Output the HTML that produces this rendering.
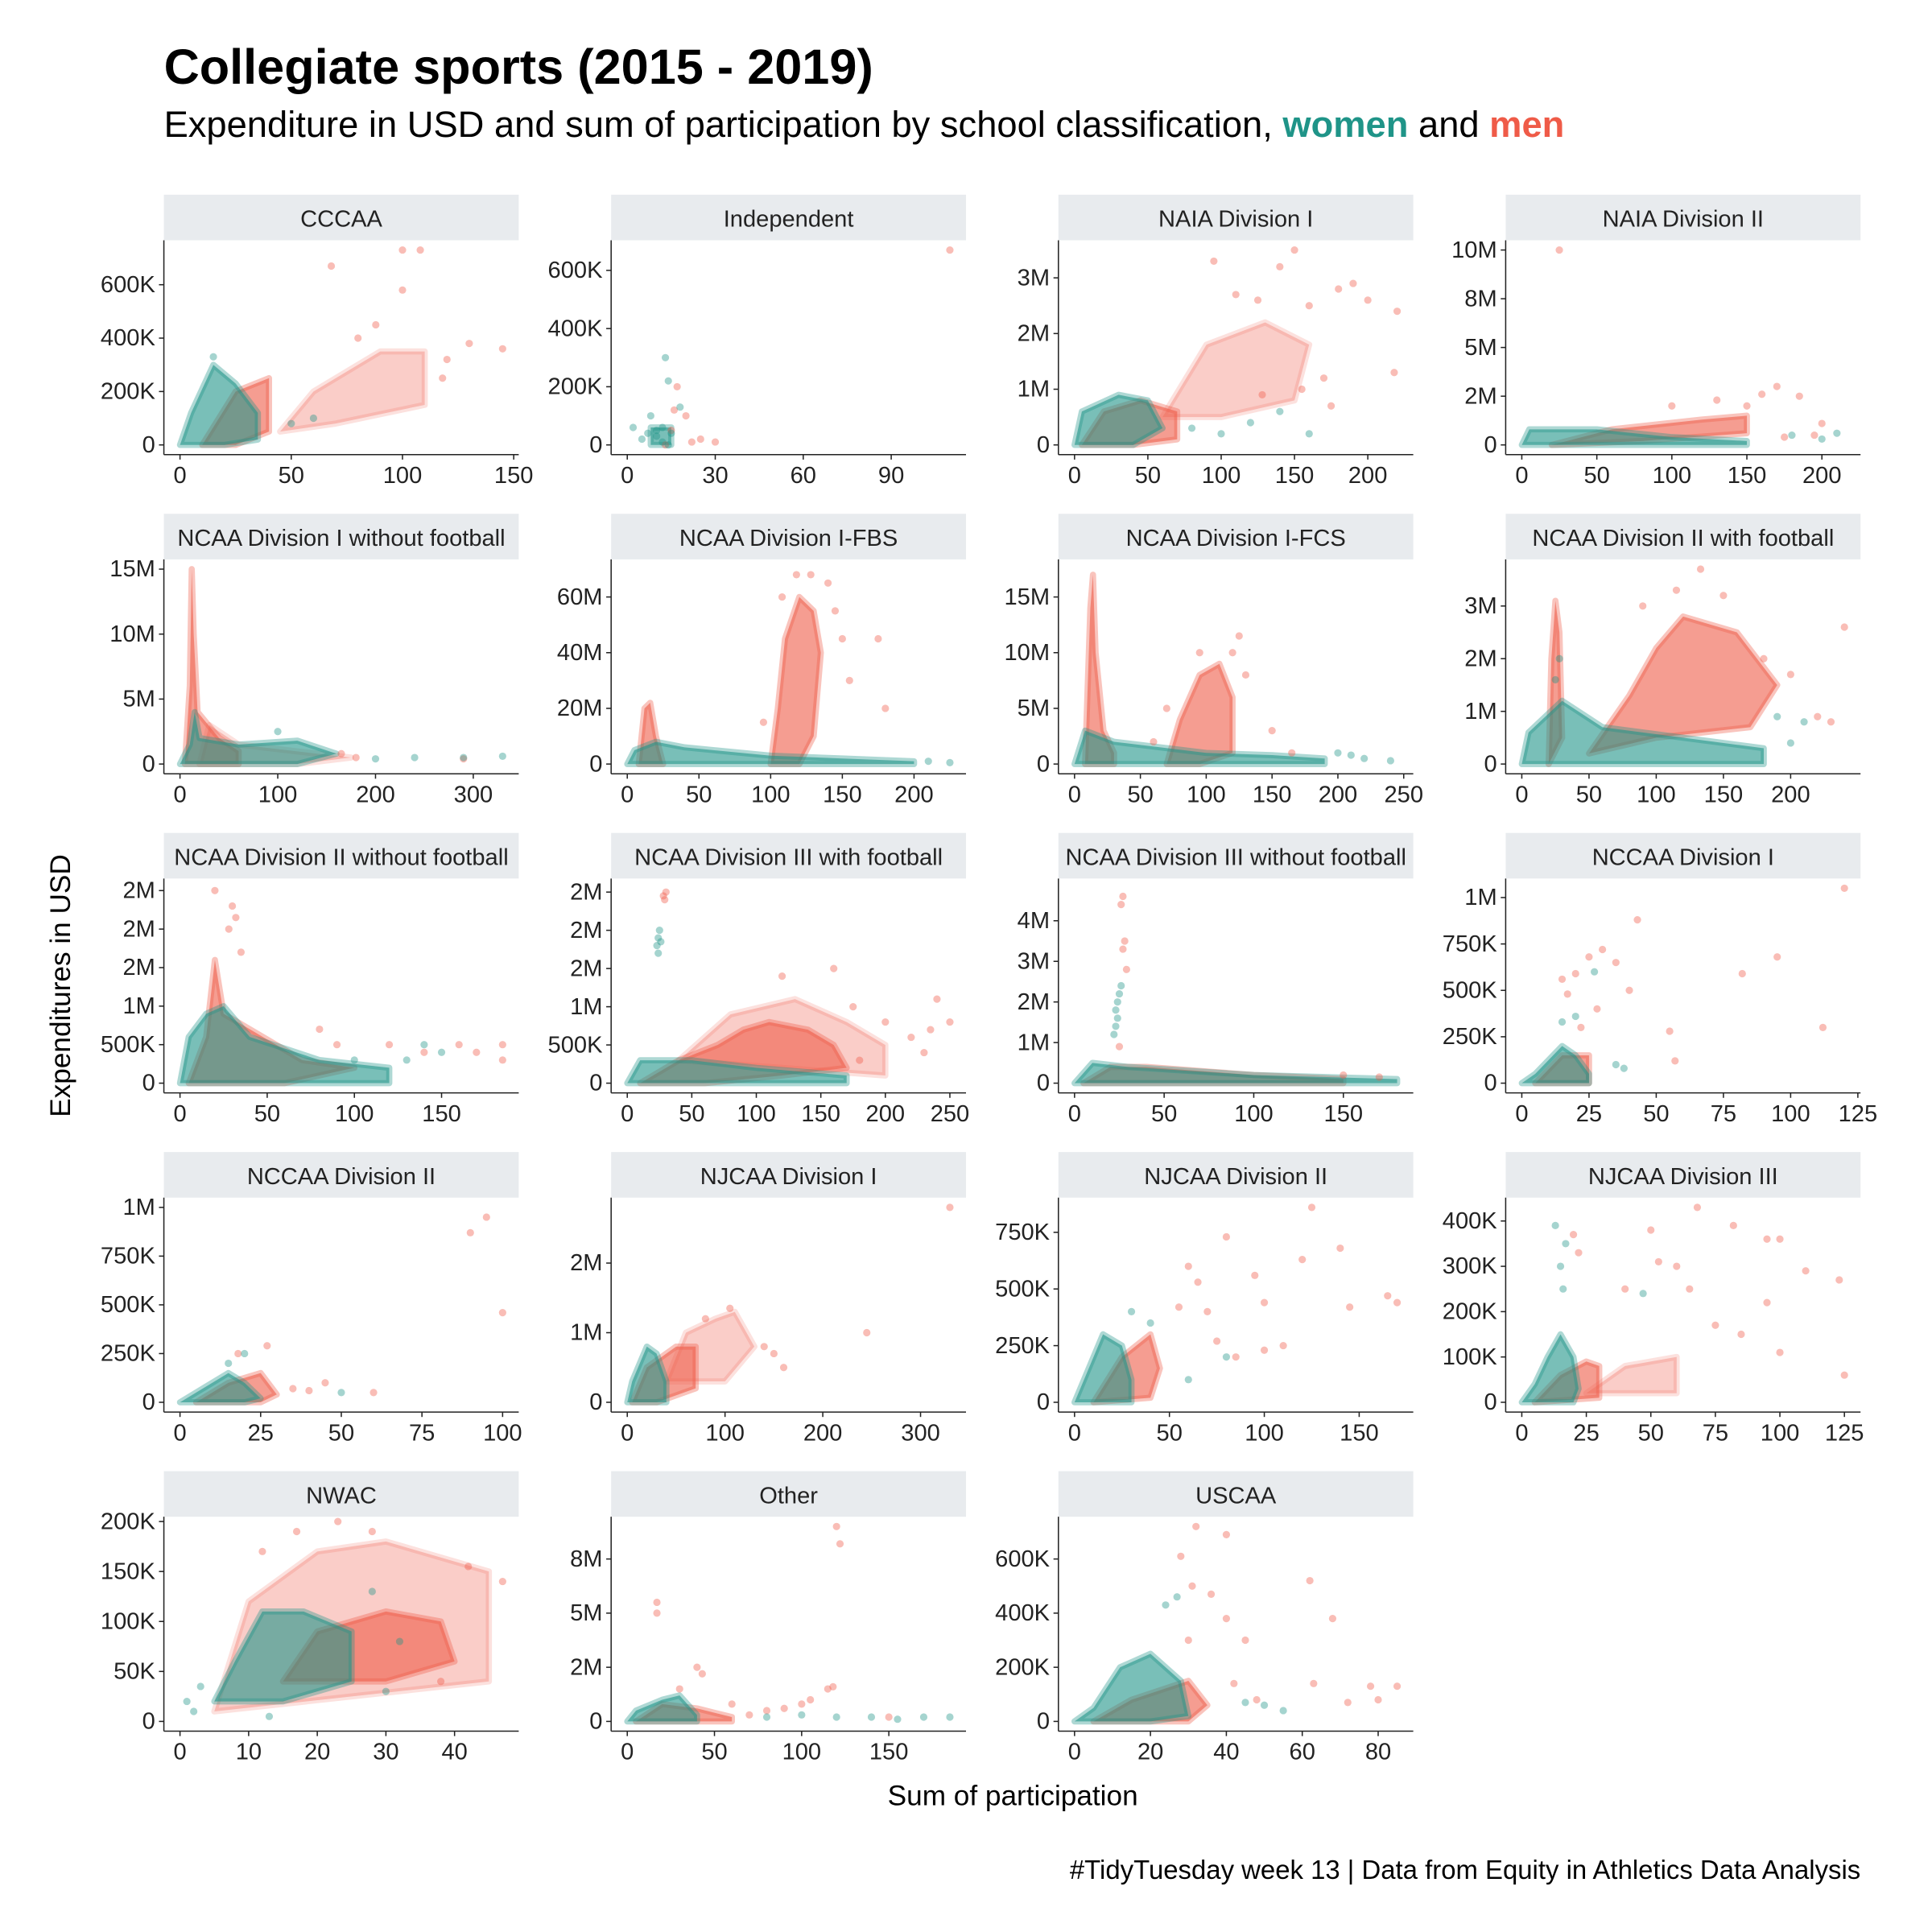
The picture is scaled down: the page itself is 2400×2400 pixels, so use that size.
<!DOCTYPE html>
<html><head><meta charset="utf-8"><style>
html,body{margin:0;padding:0;background:#fff}
svg{display:block}
text{font-family:"Liberation Sans Narrow","Liberation Sans",sans-serif}
</style></head><body>
<svg id="chart" xmlns="http://www.w3.org/2000/svg" width="2400" height="2400" viewBox="0 0 1568 1568">
<rect width="1600" height="1600" fill="#fff"/>
<text x="133" y="68" font-size="40" font-weight="bold" style="font-family:'Liberation Sans',sans-serif">Collegiate sports (2015 - 2019)</text>
<text x="133" y="111" font-size="29.6" style="font-family:'Liberation Sans',sans-serif">Expenditure in USD and sum of participation by school classification, <tspan fill="#1f9488" font-weight="bold">women</tspan> and <tspan fill="#ef5b48" font-weight="bold">men</tspan></text>
<text x="822" y="1465" font-size="23" text-anchor="middle">Sum of participation</text>
<text transform="translate(57,800) rotate(-90)" font-size="23" text-anchor="middle">Expenditures in USD</text>
<text x="1510" y="1525" font-size="21.5" text-anchor="end" style="font-family:'Liberation Sans',sans-serif">#TidyTuesday week 13 | Data from Equity in Athletics Data Analysis</text>
<g id="panels"></g>
</svg>
<script>
const panelNames=["CCCAA","Independent","NAIA Division I","NAIA Division II","NCAA Division I without football","NCAA Division I-FBS","NCAA Division I-FCS","NCAA Division II with football","NCAA Division II without football","NCAA Division III with football","NCAA Division III without football","NCCAA Division I","NCCAA Division II","NJCAA Division I","NJCAA Division II","NJCAA Division III","NWAC","Other","USCAA"];
const xMaxes=[145,110,220,215,330,225,245,240,185,250,180,120,100,330,170,125,47,185,85];
const yMaxes=[730,670,3.5,10,15,70,17.5,3.7,2.53,2.55,4.8,1050,1000,2.8,860,430,195,9,720];
const xTicks=[[0,50,100,150],[0,30,60,90],[0,50,100,150,200],[0,50,100,150,200],[0,100,200,300],[0,50,100,150,200],[0,50,100,150,200,250],[0,50,100,150,200],[0,50,100,150],[0,50,100,150,200,250],[0,50,100,150],[0,25,50,75,100,125],[0,25,50,75,100],[0,100,200,300],[0,50,100,150],[0,25,50,75,100,125],[0,10,20,30,40],[0,50,100,150],[0,20,40,60,80]];
const yTicks=[[0,200,400,600],[0,200,400,600],[0,1,2,3],[0,2.5,5,7.5,10],[0,5,10,15],[0,20,40,60],[0,5,10,15],[0,1,2,3],[0,0.5,1,1.5,2,2.5],[0,0.5,1,1.5,2,2.5],[0,1,2,3,4],[0,250,500,750,1000],[0,250,500,750,1000],[0,1,2],[0,250,500,750],[0,100,200,300,400],[0,50,100,150,200],[0,2.5,5,7.5],[0,200,400,600]];
const yTickLabels=[["0","200K","400K","600K"],["0","200K","400K","600K"],["0","1M","2M","3M"],["0","2M","5M","8M","10M"],["0","5M","10M","15M"],["0","20M","40M","60M"],["0","5M","10M","15M"],["0","1M","2M","3M"],["0","500K","1M","2M","2M","2M"],["0","500K","1M","2M","2M","2M"],["0","1M","2M","3M","4M"],["0","250K","500K","750K","1M"],["0","250K","500K","750K","1M"],["0","1M","2M"],["0","250K","500K","750K"],["0","100K","200K","300K","400K"],["0","50K","100K","150K","200K"],["0","2M","5M","8M"],["0","200K","400K","600K"]];
const womenDense=[
[[[0,0],[5,120],[15,300],[25,230],[35,120],[35,20],[20,0]]],
[[[8,0],[8,60],[15,60],[15,0]]],
[[[0,0],[5,0.6],[30,0.9],[50,0.8],[60,0.3],[40,0]]],
[[[0,0],[5,0.8],[50,0.8],[100,0.4],[150,0.2],[150,0]]],
[[[0,0],[10,1.5],[15,4],[20,2],[60,1.5],[120,1.8],[160,0.8],[120,0]]],
[[[0,0],[5,5],[20,8],[40,6],[100,3],[150,2],[200,1],[200,0]]],
[[[0,0],[8,3],[30,2],[100,1],[150,0.8],[190,0.5],[190,0]]],
[[[0,0],[5,0.6],[30,1.2],[60,0.7],[120,0.5],[180,0.3],[180,0]]],
[[[0,0],[5,0.6],[15,0.9],[25,1.0],[40,0.6],[80,0.3],[120,0.2],[120,0]]],
[[[0,0],[10,0.3],[50,0.3],[100,0.2],[170,0.1],[170,0]]],
[[[0,0],[10,0.5],[30,0.4],[100,0.2],[180,0.1],[180,0]]],
[[[0,0],[5,50],[15,200],[20,150],[25,50],[25,0]]],
[[[0,0],[5,50],[15,150],[20,100],[25,20],[20,0]]],
[[[0,0],[5,0.3],[20,0.8],[30,0.7],[40,0.3],[40,0]]],
[[[0,0],[5,100],[15,300],[25,250],[30,100],[30,0]]],
[[[0,0],[5,40],[10,100],[15,150],[20,100],[22,30],[20,0]]],
[[[5,20],[8,60],[12,110],[18,110],[25,90],[25,40],[15,20]]],
[[[0,0],[5,0.5],[20,1.0],[30,1.2],[40,0.3],[40,0]]],
[[[0,0],[5,50],[12,200],[20,250],[28,150],[30,20],[20,0]]]];
const menDense=[
[[[10,0],[25,200],[40,250],[40,50],[25,0]]],
[],
[[[5,0],[20,0.6],[45,0.8],[70,0.6],[70,0.1],[40,0]]],
[[[20,0],[60,0.8],[120,1.3],[150,1.5],[150,0.6],[80,0.2]]],
[[[5,0],[10,6],[12,15],[14,10],[18,4],[40,2],[60,1],[60,0]]],
[[[8,0],[12,20],[16,22],[20,10],[25,0]],[[100,0],[105,20],[110,45],[120,60],[130,55],[135,40],[130,10],[120,0]]],
[[[8,0],[12,14],[14,17],[16,10],[22,3],[30,1],[30,0]],[[70,0],[80,4],[95,8],[110,9],[120,6],[120,1],[95,0]]],
[[[20,0],[22,2],[25,3.1],[28,2.5],[30,0.5]],[[50,0.2],[80,1.3],[100,2.2],[120,2.8],[160,2.5],[190,1.5],[170,0.7],[100,0.5]]],
[[[5,0],[15,0.6],[20,1.6],[25,0.9],[40,0.7],[70,0.3],[100,0.2],[60,0]]],
[[[10,0],[40,0.3],[70,0.5],[90,0.7],[110,0.8],[140,0.7],[160,0.5],[170,0.2],[120,0.1],[60,0]]],
[[[5,0],[20,0.4],[40,0.4],[100,0.2],[150,0.1],[150,0]]],
[[[5,0],[15,150],[25,150],[25,0]]],
[[[5,0],[15,100],[25,150],[30,40],[25,0]]],
[[[5,0],[20,0.5],[50,0.8],[70,0.8],[70,0.2],[30,0]]],
[[[10,0],[25,200],[40,300],[45,150],[40,20]]],
[[[5,0],[15,60],[25,90],[30,80],[30,10]]],
[[[15,40],[20,90],[30,110],[38,100],[40,60],[30,40]]],
[[[5,0],[20,0.8],[40,0.6],[60,0.2],[60,0]]],
[[[5,0],[15,80],[30,150],[35,60],[30,0]]]];
const menSparse=[
[[[45,50],[60,200],[90,350],[110,350],[110,150],[70,80]]],
[],
[[[60,0.5],[90,1.8],[130,2.2],[160,1.8],[150,0.8],[100,0.5]]],
[],
[[[20,0],[30,3],[60,1.5],[140,0.8],[175,0.5],[120,0]]],
[],[],[],[],
[[[40,0.3],[80,0.9],[130,1.1],[170,0.8],[200,0.5],[200,0.1]]],
[],[],[],
[[[40,0.3],[60,1.0],[90,1.2],[110,1.3],[130,0.8],[100,0.3]]],
[],
[[[25,20],[40,80],[60,100],[60,20]]],
[[[5,10],[10,120],[20,170],[30,180],[45,150],[45,40]]],
[],[]];
const womenPoints=[
[[15,330],[60,100],[50,80]],
[[10,30],[12,60],[13,300],[14,220],[8,100],[5,20],[15,40],[12,10],[2,60],[18,130],[10,50],[14,0],[7,40]],
[[100,0.2],[120,0.4],[140,0.6],[160,0.2],[80,0.3]],
[[210,0.6],[180,0.5],[200,0.3]],
[[240,0.5],[290,0.5],[330,0.6],[200,0.4],[100,2.5]],
[[210,1],[225,0.5]],
[[200,1],[220,0.5],[240,0.3],[210,0.8]],
[[190,0.9],[210,0.8],[200,0.4],[28,2.0],[25,1.6]],
[[130,0.3],[150,0.4],[140,0.5],[100,0.3]],
[[23,1.8],[24,1.9],[25,2.0],[24,1.7],[26,1.85]],
[[22,1.2],[23,1.4],[24,1.6],[24,2.0],[25,2.2],[23,1.8],[26,2.4]],
[[27,600],[20,360],[15,330],[35,100],[38,80]],
[[50,50],[20,250],[15,200]],
[],
[[60,100],[80,200],[40,350],[30,400]],
[[13,390],[17,350],[16,250],[47,240],[15,300]],
[[1,20],[2,10],[3,35],[28,130],[30,30],[32,80],[13,5]],
[[120,0.2],[140,0.2],[155,0.1],[170,0.2],[185,0.2],[100,0.3],[80,0.2]],
[[24,430],[27,460],[50,60],[55,40],[45,70]]];
const menPoints=[
[[68,670],[100,730],[108,730],[100,580],[120,320],[130,380],[145,360],[88,450],[80,400],[118,250]],
[[110,670],[17,200],[20,100],[15,50],[22,10],[30,10],[25,20],[13,0],[16,120]],
[[150,3.5],[95,3.3],[140,3.2],[110,2.7],[180,2.8],[190,2.9],[200,2.6],[220,2.4],[218,1.3],[160,2.5],[125,2.6],[170,1.2],[175,0.7],[128,0.9],[155,1.0]],
[[25,10],[100,2.0],[150,2.0],[170,3.0],[185,2.5],[160,2.6],[130,2.3],[195,0.5],[175,0.4],[200,1.1]],
[[165,0.8],[180,0.5],[290,0.4]],
[[118,68],[128,68],[140,65],[150,45],[175,45],[180,20],[108,60],[95,15],[145,55],[155,30]],
[[95,10],[125,11.5],[120,10],[130,8],[70,5],[60,2],[150,3],[165,1]],
[[133,3.7],[115,3.3],[150,3.2],[180,2.0],[200,1.7],[220,0.9],[240,2.6],[230,0.8],[90,3.0]],
[[30,2.3],[32,2.15],[28,2.0],[35,1.7],[20,2.5],[120,0.5],[140,0.4],[160,0.5],[185,0.5],[170,0.4],[185,0.3],[80,0.7],[90,0.5]],
[[28,2.45],[30,2.5],[29,2.4],[120,1.4],[160,1.5],[175,1.0],[200,0.8],[220,0.6],[230,0.4],[240,1.1],[250,0.8],[235,0.7],[180,0.3]],
[[27,4.6],[26,4.4],[27,3.3],[28,3.5],[29,2.8],[25,0.9],[150,0.2],[170,0.15]],
[[120,1050],[43,880],[30,720],[25,680],[35,650],[20,590],[15,560],[40,500],[55,280],[57,120],[82,590],[95,680],[112,300],[28,400],[17,480],[22,300]],
[[95,950],[90,870],[100,460],[27,290],[18,250],[45,100],[60,50],[40,60],[35,70]],
[[330,2.8],[245,1.0],[150,0.7],[140,0.8],[160,0.5],[105,1.35],[80,1.2]],
[[80,730],[125,860],[140,680],[165,470],[170,440],[145,420],[95,560],[100,440],[120,630],[60,600],[65,530],[70,400],[85,200],[100,230],[75,270],[110,250],[55,420]],
[[68,430],[82,390],[95,360],[100,360],[110,290],[123,270],[125,60],[95,220],[100,110],[85,150],[75,170],[60,300],[65,250],[50,380],[53,310],[40,250],[20,370],[22,330]],
[[17,190],[23,200],[28,190],[42,155],[47,140],[38,40],[12,170]],
[[120,9],[122,8.2],[17,5.5],[17,5.0],[40,2.5],[43,2.2],[30,1.5],[80,0.5],[90,0.6],[100,0.8],[105,1.0],[115,1.5],[118,1.6],[60,0.8],[150,0.2],[70,0.3]],
[[32,720],[40,690],[28,610],[31,500],[36,470],[40,380],[45,300],[62,520],[68,380],[63,140],[78,130],[80,80],[85,130],[72,70],[42,140],[30,300],[48,80]]];

const NS="http://www.w3.org/2000/svg";
const WOMEN="#1f9488", MEN="#ef5b48";
const colLeft=[133,496,859,1222], rowTop=[158,417,676,935,1194];
const PW=288, SH=37, PH=174;
function mk(tag,attrs,parent){const e=document.createElementNS(NS,tag);for(const k in attrs)e.setAttribute(k,attrs[k]);parent.appendChild(e);return e;}
const root=document.getElementById('panels');
panelNames.forEach((name,i)=>{
  const L=colLeft[i%4], T=rowTop[Math.floor(i/4)];
  const top=T+SH, bot=top+PH;
  const xm=xMaxes[i], ym=yMaxes[i];
  const x0=-0.05*xm, x1=1.05*xm, y0=-0.05*ym, y1=1.05*ym;
  const sx=v=>L+(v-x0)/(x1-x0)*PW;
  const sy=v=>bot-(v-y0)/(y1-y0)*PH;
  const g=mk('g',{},root);
  
  
  const strip=mk('rect',{x:L,y:T,width:PW,height:SH,fill:'#e8ebee'},g);
  
  
  const st=mk('text',{x:L+PW/2,y:T+26,'font-size':19,'text-anchor':'middle',fill:'#222'},g);
  st.textContent=name;
  
  
  const marks=mk('g',{},g);
  
  
  const poly=(pts,col,op)=>{
    const p=mk('polygon',{points:pts.map(q=>sx(q[0])+','+sy(q[1])).join(' '),fill:col,'fill-opacity':op,stroke:col,'stroke-opacity':op*0.6,'stroke-width':5,'stroke-linejoin':'round'},marks);
    
    
  };
  const dot=(q,col)=>{
    const c=mk('circle',{cx:sx(q[0]),cy:sy(q[1]),r:3,fill:col,'fill-opacity':0.4},marks);
    
    
  };
  (menSparse[i]||[]).forEach(p=>poly(p,MEN,0.3));
  menDense[i].forEach(p=>poly(p,MEN,0.6));
  womenDense[i].forEach(p=>poly(p,WOMEN,0.6));
  menPoints[i].forEach(q=>dot(q,MEN));
  womenPoints[i].forEach(q=>dot(q,WOMEN));
  const ax=mk('g',{},g);
  
  
  mk('line',{x1:L,y1:top,x2:L,y2:bot,stroke:'#222','stroke-width':1},ax);
  mk('line',{x1:L,y1:bot,x2:L+PW,y2:bot,stroke:'#222','stroke-width':1},ax);
  xTicks[i].forEach(v=>{
    const x=sx(v);
    mk('line',{x1:x,y1:bot,x2:x,y2:bot+4,stroke:'#222'},ax);
    const t=mk('text',{x:x,y:bot+23,'font-size':19,'text-anchor':'middle',fill:'#222'},ax);
    t.textContent=v;
    
    
  });
  yTicks[i].forEach((v,j)=>{
    const y=sy(v);
    mk('line',{x1:L-4,y1:y,x2:L,y2:y,stroke:'#222'},ax);
    const t=mk('text',{x:L-7,y:y+6,'font-size':19,'text-anchor':'end',fill:'#222'},ax);
    t.textContent=yTickLabels[i][j];
    
    
  });
});
</script>
</body></html>
